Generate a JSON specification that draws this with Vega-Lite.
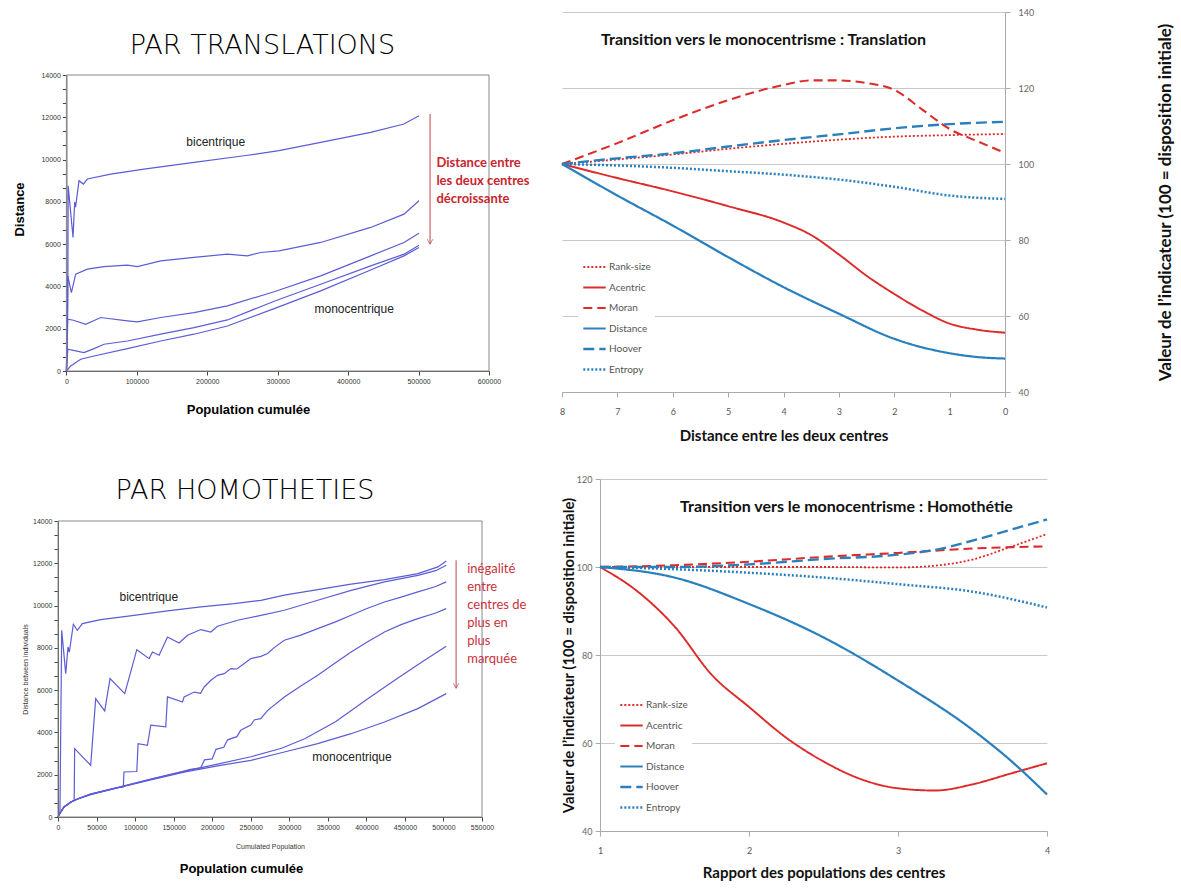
{
  "$schema": "https://vega.github.io/schema/vega-lite/v6.json",
  "background": "white",
  "padding": {"left": 13, "top": 8, "right": 4, "bottom": 4},
  "config": {"view": {"stroke": null}, "font": "Liberation Sans"},
  "spacing": 27,
  "resolve": {"scale": {"color": "independent", "strokeDash": "independent", "strokeWidth": "independent"}, "legend": {"color": "independent", "strokeDash": "independent"}},
  "datasets": {
    "tl": [
      {"c":"T1","x":0,"y":0},{"c":"T1","x":2000,"y":3000},{"c":"T1","x":2500,"y":8760},{"c":"T1","x":9400,"y":6320},{"c":"T1","x":11800,"y":7990},{"c":"T1","x":13000,"y":7750},{"c":"T1","x":17900,"y":9000},{"c":"T1","x":24100,"y":8840},{"c":"T1","x":29800,"y":9080},{"c":"T1","x":62900,"y":9310},{"c":"T1","x":110200,"y":9550},{"c":"T1","x":181200,"y":9870},{"c":"T1","x":252200,"y":10180},{"c":"T1","x":301900,"y":10420},{"c":"T1","x":361000,"y":10815},{"c":"T1","x":432000,"y":11290},{"c":"T1","x":479300,"y":11680},{"c":"T1","x":500600,"y":12075},
      {"c":"T2","x":0,"y":0},{"c":"T2","x":2000,"y":4500},{"c":"T2","x":7100,"y":3710},{"c":"T2","x":13200,"y":4580},{"c":"T2","x":29800,"y":4815},{"c":"T2","x":53400,"y":4940},{"c":"T2","x":86500,"y":5005},{"c":"T2","x":100800,"y":4940},{"c":"T2","x":133900,"y":5210},{"c":"T2","x":181200,"y":5370},{"c":"T2","x":228600,"y":5525},{"c":"T2","x":257000,"y":5450},{"c":"T2","x":275900,"y":5605},{"c":"T2","x":301900,"y":5680},{"c":"T2","x":361000,"y":6080},{"c":"T2","x":432000,"y":6790},{"c":"T2","x":479300,"y":7420},{"c":"T2","x":500600,"y":8050},
      {"c":"T3","x":0,"y":0},{"c":"T3","x":2000,"y":2450},{"c":"T3","x":10000,"y":2400},{"c":"T3","x":27400,"y":2210},{"c":"T3","x":48700,"y":2530},{"c":"T3","x":86600,"y":2370},{"c":"T3","x":100800,"y":2320},{"c":"T3","x":133900,"y":2530},{"c":"T3","x":181200,"y":2765},{"c":"T3","x":228600,"y":3080},{"c":"T3","x":295000,"y":3750},{"c":"T3","x":361000,"y":4500},{"c":"T3","x":432000,"y":5445},{"c":"T3","x":479300,"y":6080},{"c":"T3","x":500600,"y":6520},
      {"c":"T4","x":0,"y":0},{"c":"T4","x":2000,"y":1030},{"c":"T4","x":13200,"y":950},{"c":"T4","x":25000,"y":870},{"c":"T4","x":39200,"y":1060},{"c":"T4","x":53400,"y":1265},{"c":"T4","x":86600,"y":1420},{"c":"T4","x":133900,"y":1740},{"c":"T4","x":181200,"y":2055},{"c":"T4","x":228600,"y":2415},{"c":"T4","x":295000,"y":3300},{"c":"T4","x":361000,"y":4105},{"c":"T4","x":432000,"y":4970},{"c":"T4","x":479300,"y":5525},{"c":"T4","x":500600,"y":5950},
      {"c":"T5","x":0,"y":0},{"c":"T5","x":6100,"y":240},{"c":"T5","x":20300,"y":555},{"c":"T5","x":39200,"y":710},{"c":"T5","x":86600,"y":1060},{"c":"T5","x":133900,"y":1420},{"c":"T5","x":181200,"y":1740},{"c":"T5","x":228600,"y":2130},{"c":"T5","x":295000,"y":2950},{"c":"T5","x":361000,"y":3790},{"c":"T5","x":432000,"y":4780},{"c":"T5","x":479300,"y":5445},{"c":"T5","x":500600,"y":5840}
    ],
    "bl": [
      {"c":"A","x":0,"y":0},{"c":"A","x":2500,"y":200},{"c":"A","x":4800,"y":8830},{"c":"A","x":10000,"y":6780},{"c":"A","x":13000,"y":8040},{"c":"A","x":14700,"y":7800},{"c":"A","x":19900,"y":9115},{"c":"A","x":25100,"y":8830},{"c":"A","x":31600,"y":9150},{"c":"A","x":55400,"y":9335},{"c":"A","x":98700,"y":9540},{"c":"A","x":142000,"y":9745},{"c":"A","x":185300,"y":9935},{"c":"A","x":228600,"y":10090},{"c":"A","x":263200,"y":10250},{"c":"A","x":293600,"y":10490},{"c":"A","x":336900,"y":10755},{"c":"A","x":380200,"y":11010},{"c":"A","x":423500,"y":11230},{"c":"A","x":466800,"y":11510},{"c":"A","x":492800,"y":11830},{"c":"A","x":503600,"y":12110},
      {"c":"B","x":0,"y":0},{"c":"B","x":3500,"y":237},{"c":"B","x":7800,"y":475},{"c":"B","x":16400,"y":700},{"c":"B","x":21000,"y":800},{"c":"B","x":21600,"y":3235},{"c":"B","x":42400,"y":2445},{"c":"B","x":48900,"y":5600},{"c":"B","x":60600,"y":5015},{"c":"B","x":67500,"y":6545},{"c":"B","x":86600,"y":5835},{"c":"B","x":102200,"y":7915},{"c":"B","x":118200,"y":7490},{"c":"B","x":122500,"y":7805},{"c":"B","x":131200,"y":7650},{"c":"B","x":142000,"y":8515},{"c":"B","x":157100,"y":8230},{"c":"B","x":168000,"y":8595},{"c":"B","x":185300,"y":8865},{"c":"B","x":198300,"y":8750},{"c":"B","x":206900,"y":9020},{"c":"B","x":232900,"y":9305},{"c":"B","x":263200,"y":9540},{"c":"B","x":293600,"y":9780},{"c":"B","x":336900,"y":10250},{"c":"B","x":380200,"y":10720},{"c":"B","x":423500,"y":11120},{"c":"B","x":466800,"y":11430},{"c":"B","x":490000,"y":11650},{"c":"B","x":503600,"y":11905},
      {"c":"C","x":0,"y":0},{"c":"C","x":3500,"y":237},{"c":"C","x":7800,"y":475},{"c":"C","x":16400,"y":700},{"c":"C","x":25100,"y":850},{"c":"C","x":42400,"y":1080},{"c":"C","x":77100,"y":1390},{"c":"C","x":84800,"y":1420},{"c":"C","x":85500,"y":2130},{"c":"C","x":102200,"y":2150},{"c":"C","x":103900,"y":3470},{"c":"C","x":116000,"y":3390},{"c":"C","x":120300,"y":4340},{"c":"C","x":139800,"y":4260},{"c":"C","x":142000,"y":5680},{"c":"C","x":161500,"y":5440},{"c":"C","x":163600,"y":5680},{"c":"C","x":176600,"y":5910},{"c":"C","x":185000,"y":5850},{"c":"C","x":189600,"y":6150},{"c":"C","x":198300,"y":6465},{"c":"C","x":206900,"y":6700},{"c":"C","x":215600,"y":6780},{"c":"C","x":224200,"y":7020},{"c":"C","x":232000,"y":7000},{"c":"C","x":241600,"y":7255},{"c":"C","x":250200,"y":7490},{"c":"C","x":263200,"y":7600},{"c":"C","x":271900,"y":7730},{"c":"C","x":280000,"y":8000},{"c":"C","x":293600,"y":8360},{"c":"C","x":315000,"y":8600},{"c":"C","x":336900,"y":8910},{"c":"C","x":360000,"y":9230},{"c":"C","x":380200,"y":9540},{"c":"C","x":400000,"y":9850},{"c":"C","x":423500,"y":10170},{"c":"C","x":445000,"y":10400},{"c":"C","x":466800,"y":10645},{"c":"C","x":490000,"y":10900},{"c":"C","x":503600,"y":11120},
      {"c":"D","x":0,"y":0},{"c":"D","x":3500,"y":237},{"c":"D","x":7800,"y":475},{"c":"D","x":16400,"y":700},{"c":"D","x":25100,"y":850},{"c":"D","x":42400,"y":1080},{"c":"D","x":77100,"y":1390},{"c":"D","x":120300,"y":1790},{"c":"D","x":163600,"y":2170},{"c":"D","x":172000,"y":2250},{"c":"D","x":185000,"y":2320},{"c":"D","x":190000,"y":2700},{"c":"D","x":200000,"y":2750},{"c":"D","x":205000,"y":3200},{"c":"D","x":215000,"y":3300},{"c":"D","x":220000,"y":3650},{"c":"D","x":232000,"y":3800},{"c":"D","x":237000,"y":4100},{"c":"D","x":250000,"y":4350},{"c":"D","x":255000,"y":4600},{"c":"D","x":263000,"y":4650},{"c":"D","x":272000,"y":5045},{"c":"D","x":293600,"y":5680},{"c":"D","x":315000,"y":6200},{"c":"D","x":336900,"y":6700},{"c":"D","x":360000,"y":7300},{"c":"D","x":380200,"y":7805},{"c":"D","x":400000,"y":8250},{"c":"D","x":423500,"y":8750},{"c":"D","x":445000,"y":9100},{"c":"D","x":466800,"y":9380},{"c":"D","x":490000,"y":9650},{"c":"D","x":503600,"y":9855},
      {"c":"E","x":0,"y":0},{"c":"E","x":3500,"y":237},{"c":"E","x":7800,"y":475},{"c":"E","x":16400,"y":700},{"c":"E","x":25100,"y":850},{"c":"E","x":42400,"y":1080},{"c":"E","x":77100,"y":1390},{"c":"E","x":120300,"y":1780},{"c":"E","x":163600,"y":2160},{"c":"E","x":206900,"y":2500},{"c":"E","x":250300,"y":2850},{"c":"E","x":290000,"y":3250},{"c":"E","x":320000,"y":3700},{"c":"E","x":360000,"y":4500},{"c":"E","x":400000,"y":5550},{"c":"E","x":440000,"y":6550},{"c":"E","x":475000,"y":7400},{"c":"E","x":503600,"y":8075},
      {"c":"F","x":0,"y":0},{"c":"F","x":3500,"y":237},{"c":"F","x":7800,"y":475},{"c":"F","x":16400,"y":700},{"c":"F","x":25100,"y":840},{"c":"F","x":42400,"y":1060},{"c":"F","x":77100,"y":1370},{"c":"F","x":120300,"y":1750},{"c":"F","x":163600,"y":2120},{"c":"F","x":206900,"y":2420},{"c":"F","x":250300,"y":2680},{"c":"F","x":293600,"y":3075},{"c":"F","x":336900,"y":3470},{"c":"F","x":380200,"y":3940},{"c":"F","x":423500,"y":4495},{"c":"F","x":466800,"y":5125},{"c":"F","x":503600,"y":5835}
    ],
    "tr": [
      {"k":"Rank-size","x":8,"y":100},{"k":"Rank-size","x":7,"y":101.2},{"k":"Rank-size","x":6,"y":102.5},{"k":"Rank-size","x":5,"y":104.0},{"k":"Rank-size","x":4,"y":105.3},{"k":"Rank-size","x":3,"y":106.4},{"k":"Rank-size","x":2,"y":107.2},{"k":"Rank-size","x":1,"y":107.6},{"k":"Rank-size","x":0,"y":107.9},
      {"k":"Acentric","x":8,"y":100},{"k":"Acentric","x":7,"y":96.3},{"k":"Acentric","x":6,"y":92.8},{"k":"Acentric","x":5,"y":88.9},{"k":"Acentric","x":4,"y":84.6},{"k":"Acentric","x":3.5,"y":81.3},{"k":"Acentric","x":3,"y":76.2},{"k":"Acentric","x":2.5,"y":70.6},{"k":"Acentric","x":2,"y":65.8},{"k":"Acentric","x":1.5,"y":61.5},{"k":"Acentric","x":1,"y":58.0},{"k":"Acentric","x":0.5,"y":56.4},{"k":"Acentric","x":0,"y":55.6},
      {"k":"Moran","x":8,"y":100},{"k":"Moran","x":7,"y":105.5},{"k":"Moran","x":6,"y":111.5},{"k":"Moran","x":5,"y":116.8},{"k":"Moran","x":4,"y":120.8},{"k":"Moran","x":3.5,"y":122},{"k":"Moran","x":3,"y":122},{"k":"Moran","x":2.5,"y":121.3},{"k":"Moran","x":2,"y":119.5},{"k":"Moran","x":1.5,"y":114.4},{"k":"Moran","x":1,"y":109.2},{"k":"Moran","x":0.5,"y":106},{"k":"Moran","x":0,"y":102.9},
      {"k":"Distance","x":8,"y":100},{"k":"Distance","x":7,"y":91.7},{"k":"Distance","x":6,"y":83.8},{"k":"Distance","x":5,"y":75.5},{"k":"Distance","x":4,"y":67.6},{"k":"Distance","x":3,"y":60.6},{"k":"Distance","x":2,"y":54.0},{"k":"Distance","x":1,"y":50.2},{"k":"Distance","x":0.5,"y":49.2},{"k":"Distance","x":0,"y":48.8},
      {"k":"Hoover","x":8,"y":100},{"k":"Hoover","x":7,"y":101.5},{"k":"Hoover","x":6,"y":102.8},{"k":"Hoover","x":5,"y":104.6},{"k":"Hoover","x":4,"y":106.3},{"k":"Hoover","x":3,"y":107.8},{"k":"Hoover","x":2,"y":109.4},{"k":"Hoover","x":1,"y":110.5},{"k":"Hoover","x":0,"y":111.1},
      {"k":"Entropy","x":8,"y":100},{"k":"Entropy","x":7,"y":99.6},{"k":"Entropy","x":6,"y":99.0},{"k":"Entropy","x":5,"y":98.1},{"k":"Entropy","x":4,"y":97.2},{"k":"Entropy","x":3,"y":95.9},{"k":"Entropy","x":2,"y":94.0},{"k":"Entropy","x":1,"y":91.7},{"k":"Entropy","x":0,"y":90.8}
    ],
    "br": [
      {"k":"Rank-size","x":1,"y":100},{"k":"Rank-size","x":1.5,"y":100},{"k":"Rank-size","x":2,"y":100},{"k":"Rank-size","x":2.5,"y":100},{"k":"Rank-size","x":3,"y":99.9},{"k":"Rank-size","x":3.25,"y":100.3},{"k":"Rank-size","x":3.5,"y":101.7},{"k":"Rank-size","x":3.75,"y":104.5},{"k":"Rank-size","x":4,"y":107.5},
      {"k":"Acentric","x":1,"y":100},{"k":"Acentric","x":1.25,"y":94.5},{"k":"Acentric","x":1.5,"y":86.5},{"k":"Acentric","x":1.75,"y":75.5},{"k":"Acentric","x":2,"y":68.2},{"k":"Acentric","x":2.25,"y":61.2},{"k":"Acentric","x":2.5,"y":55.8},{"k":"Acentric","x":2.75,"y":51.8},{"k":"Acentric","x":3,"y":49.7},{"k":"Acentric","x":3.25,"y":49.2},{"k":"Acentric","x":3.5,"y":50.6},{"k":"Acentric","x":3.75,"y":53.0},{"k":"Acentric","x":4,"y":55.4},
      {"k":"Moran","x":1,"y":100},{"k":"Moran","x":1.5,"y":100.4},{"k":"Moran","x":2,"y":101.2},{"k":"Moran","x":2.5,"y":102.3},{"k":"Moran","x":3,"y":103.2},{"k":"Moran","x":3.5,"y":104.2},{"k":"Moran","x":4,"y":104.7},
      {"k":"Distance","x":1,"y":100},{"k":"Distance","x":1.5,"y":97.6},{"k":"Distance","x":2,"y":91.6},{"k":"Distance","x":2.5,"y":84.0},{"k":"Distance","x":3,"y":74.2},{"k":"Distance","x":3.5,"y":63.0},{"k":"Distance","x":3.75,"y":56.2},{"k":"Distance","x":4,"y":48.3},
      {"k":"Hoover","x":1,"y":100},{"k":"Hoover","x":1.5,"y":100.0},{"k":"Hoover","x":2,"y":100.6},{"k":"Hoover","x":2.5,"y":101.8},{"k":"Hoover","x":3,"y":102.8},{"k":"Hoover","x":3.25,"y":103.9},{"k":"Hoover","x":3.5,"y":106.0},{"k":"Hoover","x":3.75,"y":108.4},{"k":"Hoover","x":4,"y":110.8},
      {"k":"Entropy","x":1,"y":100},{"k":"Entropy","x":1.5,"y":99.5},{"k":"Entropy","x":2,"y":98.7},{"k":"Entropy","x":2.5,"y":97.6},{"k":"Entropy","x":3,"y":96.1},{"k":"Entropy","x":3.5,"y":94.4},{"k":"Entropy","x":4,"y":90.8}
    ],
    "tl_txt": [{"x":212000,"y":10815,"t":"bicentrique"},{"x":408600,"y":2920,"t":"monocentrique"}],
    "tl_red": [{"x":525300,"y":10100,"t":["Distance entre","les deux centres","décroissante"]}],
    "tl_arrow": [{"x":516300,"y":12155,"y2":6000}],
    "bl_txt": [{"x":117800,"y":10406,"t":"bicentrique"},{"x":381400,"y":2838,"t":"monocentrique"}],
    "bl_red": [{"x":530800,"y":12000,"t":["inégalité","entre","centres de","plus en","plus","marquée"]}],
    "bl_arrow": [{"x":516400,"y":12140,"y2":6090}],
    "frame": [{}]
  },
  "hconcat": [
    {
      "spacing": 61,
      "vconcat": [
        {
          "width": 431,
          "height": 359,
          "title": {"text": "PAR TRANSLATIONS", "font": "DejaVu Sans", "fontSize": 27, "fontWeight": 200, "color": "#000", "anchor": "middle", "frame": "group", "offset": -48, "dx": -11},
          "resolve": {"axis": {"y": "independent"}},
          "layer": [
            {
              "data": {"name": "tl"},
              "mark": {"type": "line", "color": "#5c5cd6", "strokeWidth": 1.2},
              "encoding": {
                "x": {"field": "x", "type": "quantitative", "scale": {"domain": [0, 600000], "range": [8.4, 431], "nice": false, "zero": false},
                  "axis": {"title": "Population cumulée", "titleFontSize": 13, "titleFontWeight": "bold", "titleColor": "#000", "titlePadding": 19, "titleX": 190,
                    "values": [0,25000,50000,75000,100000,125000,150000,175000,200000,225000,250000,275000,300000,325000,350000,375000,400000,425000,450000,475000,500000,525000,550000,575000,600000],
                    "labelExpr": "datum.value % 100000 === 0 ? '' + datum.value : ''", "labelOverlap": false, "labelFontSize": 7, "labelColor": "#333", "tickSize": 4, "tickColor": "#444", "domainColor": "#555", "grid": false, "labelFlush": false}},
                "y": {"field": "y", "type": "quantitative", "scale": {"domain": [0, 14000], "range": [359, 63], "nice": false, "zero": false},
                  "axis": {"orient": "left", "title": "Distance", "titleFontSize": 13, "titleFontWeight": "bold", "titleColor": "#000", "titlePadding": 14, "titleY": 197, "offset": -8.4,
                    "values": [0,2000,4000,6000,8000,10000,12000,14000], "format": "d",
                    "labelOverlap": false, "labelFontSize": 7, "labelColor": "#333", "tickSize": 4, "tickColor": "#444", "domainColor": "#555", "grid": false, "labelFlush": false}},
                "detail": {"field": "c"}
              }
            },
            {
              "data": {"name": "frame"},
              "mark": {"type": "rect", "fill": "transparent", "stroke": "#888", "strokeWidth": 1},
              "encoding": {"x": {"datum": 0}, "x2": {"datum": 600000},
                "y": {"datum": 0, "axis": {"orient": "left", "offset": -8.4, "title": null, "labels": false, "domain": false, "grid": false, "tickSize": 4, "tickColor": "#444",
                  "values": [667,1333,2667,3333,4667,5333,6667,7333,8667,9333,10667,11333,12667,13333]}},
                "y2": {"datum": 14000}}
            },
            {
              "data": {"name": "tl_txt"},
              "mark": {"type": "text", "fontSize": 12, "color": "#222", "font": "Liberation Sans"},
              "encoding": {"x": {"field": "x", "type": "quantitative"}, "y": {"field": "y", "type": "quantitative", "axis": null}, "text": {"field": "t"}}
            },
            {
              "data": {"name": "tl_red"},
              "mark": {"type": "text", "fontSize": 13, "fontWeight": "bold", "color": "#c8252f", "font": "Lato", "align": "left", "baseline": "top", "lineHeight": 18},
              "encoding": {"x": {"field": "x", "type": "quantitative"}, "y": {"field": "y", "type": "quantitative", "axis": null}, "text": {"field": "t"}}
            },
            {
              "data": {"name": "tl_arrow"},
              "mark": {"type": "rule", "color": "#c0434a", "strokeWidth": 1},
              "encoding": {"x": {"field": "x", "type": "quantitative"}, "y": {"field": "y", "type": "quantitative", "axis": null}, "y2": {"field": "y2"}}
            },
            {
              "data": {"name": "tl_arrow"},
              "mark": {"type": "point", "shape": "M-1,-1.8L0,0L1,-1.8", "filled": false, "color": "#c0434a", "size": 30, "strokeWidth": 1},
              "encoding": {"x": {"field": "x", "type": "quantitative"}, "y": {"field": "y2", "type": "quantitative", "axis": null}}
            }
          ]
        },
        {
          "width": 424,
          "height": 296,
          "title": {"text": "PAR HOMOTHETIES", "font": "DejaVu Sans", "fontSize": 27, "fontWeight": 200, "color": "#000", "anchor": "middle", "frame": "group", "offset": 12, "dx": -25},
          "resolve": {"axis": {"x": "independent", "y": "independent"}},
          "layer": [
            {
              "data": {"name": "bl"},
              "mark": {"type": "line", "color": "#5c5cd6", "strokeWidth": 1.2},
              "encoding": {
                "x": {"field": "x", "type": "quantitative", "scale": {"domain": [0, 550000], "nice": false, "zero": false},
                  "axis": {"orient": "bottom", "title": "Cumulated Population", "titleFontSize": 7, "titleFontWeight": "normal", "titleColor": "#333", "titlePadding": 12,
                    "values": [0,50000,100000,150000,200000,250000,300000,350000,400000,450000,500000,550000],
                    "format": "d", "labelOverlap": false, "labelFontSize": 7, "labelColor": "#333", "tickSize": 4, "tickColor": "#444", "domainColor": "#555", "grid": false, "labelFlush": false}},
                "y": {"field": "y", "type": "quantitative", "scale": {"domain": [0, 14000], "nice": false, "zero": false},
                  "axis": {"orient": "left", "title": "Distance between individuals", "titleFontSize": 7, "titleFontWeight": "normal", "titleColor": "#333", "titlePadding": 4,
                    "values": [0,2000,4000,6000,8000,10000,12000,14000], "format": "d",
                    "labelOverlap": false, "labelFontSize": 7, "labelColor": "#333", "tickSize": 4, "tickColor": "#444", "domainColor": "#555", "grid": false, "labelFlush": false}},
                "detail": {"field": "c"}
              }
            },
            {
              "data": {"name": "frame"},
              "mark": {"type": "rect", "fill": "transparent", "stroke": "#888", "strokeWidth": 1},
              "encoding": {
                "x": {"datum": 0, "axis": {"orient": "bottom", "title": "Population cumulée", "titleFontSize": 13, "titleFontWeight": "bold", "titleColor": "#000", "labels": false, "ticks": false, "domain": false, "grid": false, "titlePadding": 45, "titleX": 183}},
                "x2": {"datum": 550000},
                "y": {"datum": 0, "axis": {"orient": "left", "title": null, "labels": false, "domain": false, "grid": false, "tickSize": 4, "tickColor": "#444",
                  "values": [667,1333,2667,3333,4667,5333,6667,7333,8667,9333,10667,11333,12667,13333]}},
                "y2": {"datum": 14000}}
            },
            {
              "data": {"name": "bl_txt"},
              "mark": {"type": "text", "fontSize": 12, "color": "#222", "font": "Liberation Sans"},
              "encoding": {"x": {"field": "x", "type": "quantitative", "axis": null}, "y": {"field": "y", "type": "quantitative", "axis": null}, "text": {"field": "t"}}
            },
            {
              "data": {"name": "bl_red"},
              "mark": {"type": "text", "fontSize": 13, "color": "#c8323c", "font": "Lato", "align": "left", "baseline": "top", "lineHeight": 18},
              "encoding": {"x": {"field": "x", "type": "quantitative", "axis": null}, "y": {"field": "y", "type": "quantitative", "axis": null}, "text": {"field": "t"}}
            },
            {
              "data": {"name": "bl_arrow"},
              "mark": {"type": "rule", "color": "#c0434a", "strokeWidth": 1},
              "encoding": {"x": {"field": "x", "type": "quantitative", "axis": null}, "y": {"field": "y", "type": "quantitative", "axis": null}, "y2": {"field": "y2"}}
            },
            {
              "data": {"name": "bl_arrow"},
              "mark": {"type": "point", "shape": "M-1,-1.8L0,0L1,-1.8", "filled": false, "color": "#c0434a", "size": 30, "strokeWidth": 1},
              "encoding": {"x": {"field": "x", "type": "quantitative", "axis": null}, "y": {"field": "y2", "type": "quantitative", "axis": null}}
            }
          ]
        }
      ]
    },
    {
      "spacing": 32,
      "resolve": {"scale": {"color": "independent", "strokeDash": "independent", "strokeWidth": "independent"}, "legend": {"color": "independent", "strokeDash": "independent"}},
      "vconcat": [
        {
          "width": 443,
          "height": 380,
          "title": {"text": "Transition vers le monocentrisme : Translation", "font": "Lato", "fontSize": 16, "fontWeight": "bold", "color": "#111", "anchor": "middle", "frame": "group", "offset": -40, "dx": -20},
          "data": {"name": "tr"},
          "mark": {"type": "line", "interpolate": "monotone"},
          "encoding": {
            "x": {"field": "x", "type": "quantitative", "scale": {"domain": [8, 0], "nice": false, "zero": false},
              "axis": {"values": [8,7,6,5,4,3,2,1,0], "format": "d", "grid": false, "title": "Distance entre les deux centres", "titleFont": "Lato", "titleFontSize": 15, "titleFontWeight": "bold", "titleColor": "#111", "titlePadding": 12,
                "labelFont": "Lato", "labelFontSize": 9, "labelColor": "#555", "labelPadding": 10, "tickSize": 5, "tickColor": "#aaa", "domainColor": "#aaa", "labelFlush": false}},
            "y": {"field": "y", "type": "quantitative", "scale": {"domain": [40, 140], "nice": false, "zero": false},
              "axis": {"orient": "right", "values": [40,60,80,100,120,140], "grid": true, "gridColor": "#c8c8c8", "domainColor": "#aaa", "tickColor": "#aaa", "tickSize": 5,
                "labelFont": "Lato", "labelFontSize": 9, "labelColor": "#666", "labelPadding": 8,
                "title": "Valeur de l’indicateur (100 = disposition initiale)", "titleAngle": 270, "titleFont": "Lato", "titleFontSize": 17, "titleFontWeight": "bold", "titleColor": "#111", "titlePadding": 141}},
            "color": {"field": "k", "type": "nominal", "scale": {"domain": ["Rank-size","Acentric","Moran","Distance","Hoover","Entropy"], "range": ["#dd2a2a","#dd2a2a","#dd2a2a","#2a80bd","#2a80bd","#2a80bd"]},
              "legend": {"title": null, "orient": "none", "legendX": 16, "legendY": 243, "symbolType": "stroke", "symbolSize": 500, "symbolStrokeWidth": 2.5, "clipHeight": 16, "labelFont": "Lato", "labelFontSize": 10, "labelColor": "#555", "labelOffset": 2, "rowPadding": 4.5, "fillColor": "white", "padding": 4}},
            "strokeDash": {"field": "k", "type": "nominal", "scale": {"domain": ["Rank-size","Acentric","Moran","Distance","Hoover","Entropy"], "range": [[2,2],[1,0],[9,5],[1,0],[11,5],[2,2]]},
              "legend": {"title": null, "orient": "none", "legendX": 16, "legendY": 243, "symbolType": "stroke", "symbolSize": 500, "symbolStrokeWidth": 2.5, "clipHeight": 16, "labelFont": "Lato", "labelFontSize": 10, "labelColor": "#555", "labelOffset": 2, "rowPadding": 4.5, "fillColor": "white", "padding": 4}},
            "strokeWidth": {"field": "k", "type": "nominal", "scale": {"domain": ["Rank-size","Acentric","Moran","Distance","Hoover","Entropy"], "range": [1.8,2.5,2.5,2.5,2.5,1.8]}, "legend": null}
          }
        },
        {
          "width": 485,
          "height": 352,
          "title": {"text": "Transition vers le monocentrisme : Homothétie", "font": "Lato", "fontSize": 16, "fontWeight": "bold", "color": "#111", "anchor": "middle", "frame": "group", "offset": -40, "dx": 42},
          "data": {"name": "br"},
          "mark": {"type": "line", "interpolate": "monotone"},
          "encoding": {
            "x": {"field": "x", "type": "quantitative", "scale": {"domain": [1, 4], "range": [38, 485], "nice": false, "zero": false},
              "axis": {"values": [1,2,3,4], "format": "d", "grid": false, "title": "Rapport des populations des centres", "titleFont": "Lato", "titleFontSize": 15, "titleFontWeight": "bold", "titleColor": "#111", "titlePadding": 10,
                "labelFont": "Lato", "labelFontSize": 9, "labelColor": "#555", "labelPadding": 10, "tickSize": 5, "tickColor": "#aaa", "domainColor": "#aaa", "labelFlush": false}},
            "y": {"field": "y", "type": "quantitative", "scale": {"domain": [40, 120], "nice": false, "zero": false},
              "axis": {"orient": "left", "offset": -38, "values": [40,60,80,100,120], "grid": true, "gridColor": "#c8c8c8", "domainColor": "#aaa", "tickColor": "#aaa", "tickSize": 5,
                "labelFont": "Lato", "labelFontSize": 9, "labelColor": "#666", "labelPadding": 3,
                "title": "Valeur de l’indicateur (100 = disposition initiale)", "titleFont": "Lato", "titleFontSize": 15, "titleFontWeight": "bold", "titleColor": "#111", "titlePadding": 0}},
            "color": {"field": "k", "type": "nominal", "scale": {"domain": ["Rank-size","Acentric","Moran","Distance","Hoover","Entropy"], "range": ["#dd2a2a","#dd2a2a","#dd2a2a","#2a80bd","#2a80bd","#2a80bd"]},
              "legend": {"title": null, "orient": "none", "legendX": 53, "legendY": 214, "symbolType": "stroke", "symbolSize": 500, "symbolStrokeWidth": 2.5, "clipHeight": 16, "labelFont": "Lato", "labelFontSize": 10, "labelColor": "#555", "labelOffset": 2, "rowPadding": 4.5, "fillColor": "white", "padding": 4}},
            "strokeDash": {"field": "k", "type": "nominal", "scale": {"domain": ["Rank-size","Acentric","Moran","Distance","Hoover","Entropy"], "range": [[2,2],[1,0],[9,5],[1,0],[11,5],[2,2]]},
              "legend": {"title": null, "orient": "none", "legendX": 53, "legendY": 214, "symbolType": "stroke", "symbolSize": 500, "symbolStrokeWidth": 2.5, "clipHeight": 16, "labelFont": "Lato", "labelFontSize": 10, "labelColor": "#555", "labelOffset": 2, "rowPadding": 4.5, "fillColor": "white", "padding": 4}},
            "strokeWidth": {"field": "k", "type": "nominal", "scale": {"domain": ["Rank-size","Acentric","Moran","Distance","Hoover","Entropy"], "range": [1.8,2.5,2.5,2.5,2.5,1.8]}, "legend": null}
          }
        }
      ]
    }
  ]
}
